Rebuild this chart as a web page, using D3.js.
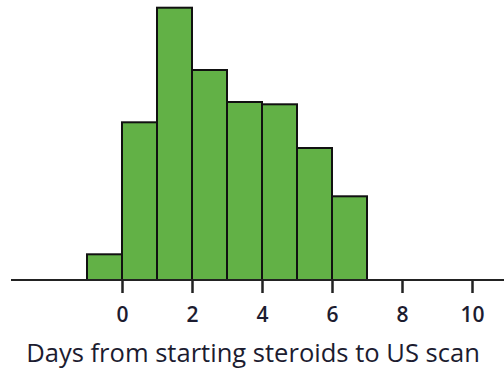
<!DOCTYPE html>
<html><head><meta charset="utf-8">
<script src="https://cdn.jsdelivr.net/npm/d3@7"></script>
<style>html,body{margin:0;padding:0;background:#fff;}svg{display:block;}</style>
</head><body>
<svg id="c" width="504" height="368"></svg>
<script>
// Bin starts (days), each bin 1 day wide
const binStarts = [-1, 0, 1, 2, 3, 4, 5, 6];
// Relative frequencies (arbitrary units)
const binValues = [2.57, 15.77, 27.23, 21.0, 17.8, 17.57, 13.2, 8.37];
const tickValues = [0, 2, 4, 6, 8, 10];
const xLabel = "Days from starting steroids to US scan";

const svg = d3.select("#c");
const x = d3.scaleLinear().domain([0, 10]).range([122, 472]);
const y = d3.scaleLinear().domain([0, 28]).range([280, 0]);

const bins = binStarts.map((s, i) => ({x0: s, x1: s + 1, v: binValues[i]}));

svg.append("g").selectAll("rect").data(bins).join("rect")
  .attr("x", d => x(d.x0))
  .attr("y", d => y(d.v))
  .attr("width", d => x(d.x1) - x(d.x0))
  .attr("height", d => y(0) - y(d.v))
  .attr("fill", "#62b146")
  .attr("stroke", "#111")
  .attr("stroke-width", 2);

// axis
const ax = svg.append("g").attr("transform", `translate(0,${y(0)})`)
  .call(d3.axisBottom(x).tickValues(tickValues).tickSize(13).tickPadding(14).tickSizeOuter(0));
ax.select(".domain").remove();
ax.append("line").attr("x1", 11).attr("x2", 504).attr("y1", 0).attr("y2", 0)
  .attr("stroke", "#222").attr("stroke-width", 2);
ax.selectAll(".tick line").attr("stroke", "#222").attr("stroke-width", 2.5);
ax.selectAll(".tick text")
  .attr("font-family", "Open Sans, sans-serif")
  .attr("font-size", 21)
  .attr("font-weight", 600)
  .attr("fill", "#1c1c30")
  .attr("dy", null)
  .attr("y", 42);

const lab = svg.append("text")
  .attr("x", 253).attr("y", 362)
  .attr("text-anchor", "middle")
  .attr("font-family", "Open Sans, sans-serif")
  .attr("font-size", 22)
  .attr("font-weight", 500)
  .attr("fill", "#1c1c30")
  .text(xLabel);
const w = lab.node().getComputedTextLength();
lab.attr("font-size", 22 * 454 / w);
</script>
</body></html>
